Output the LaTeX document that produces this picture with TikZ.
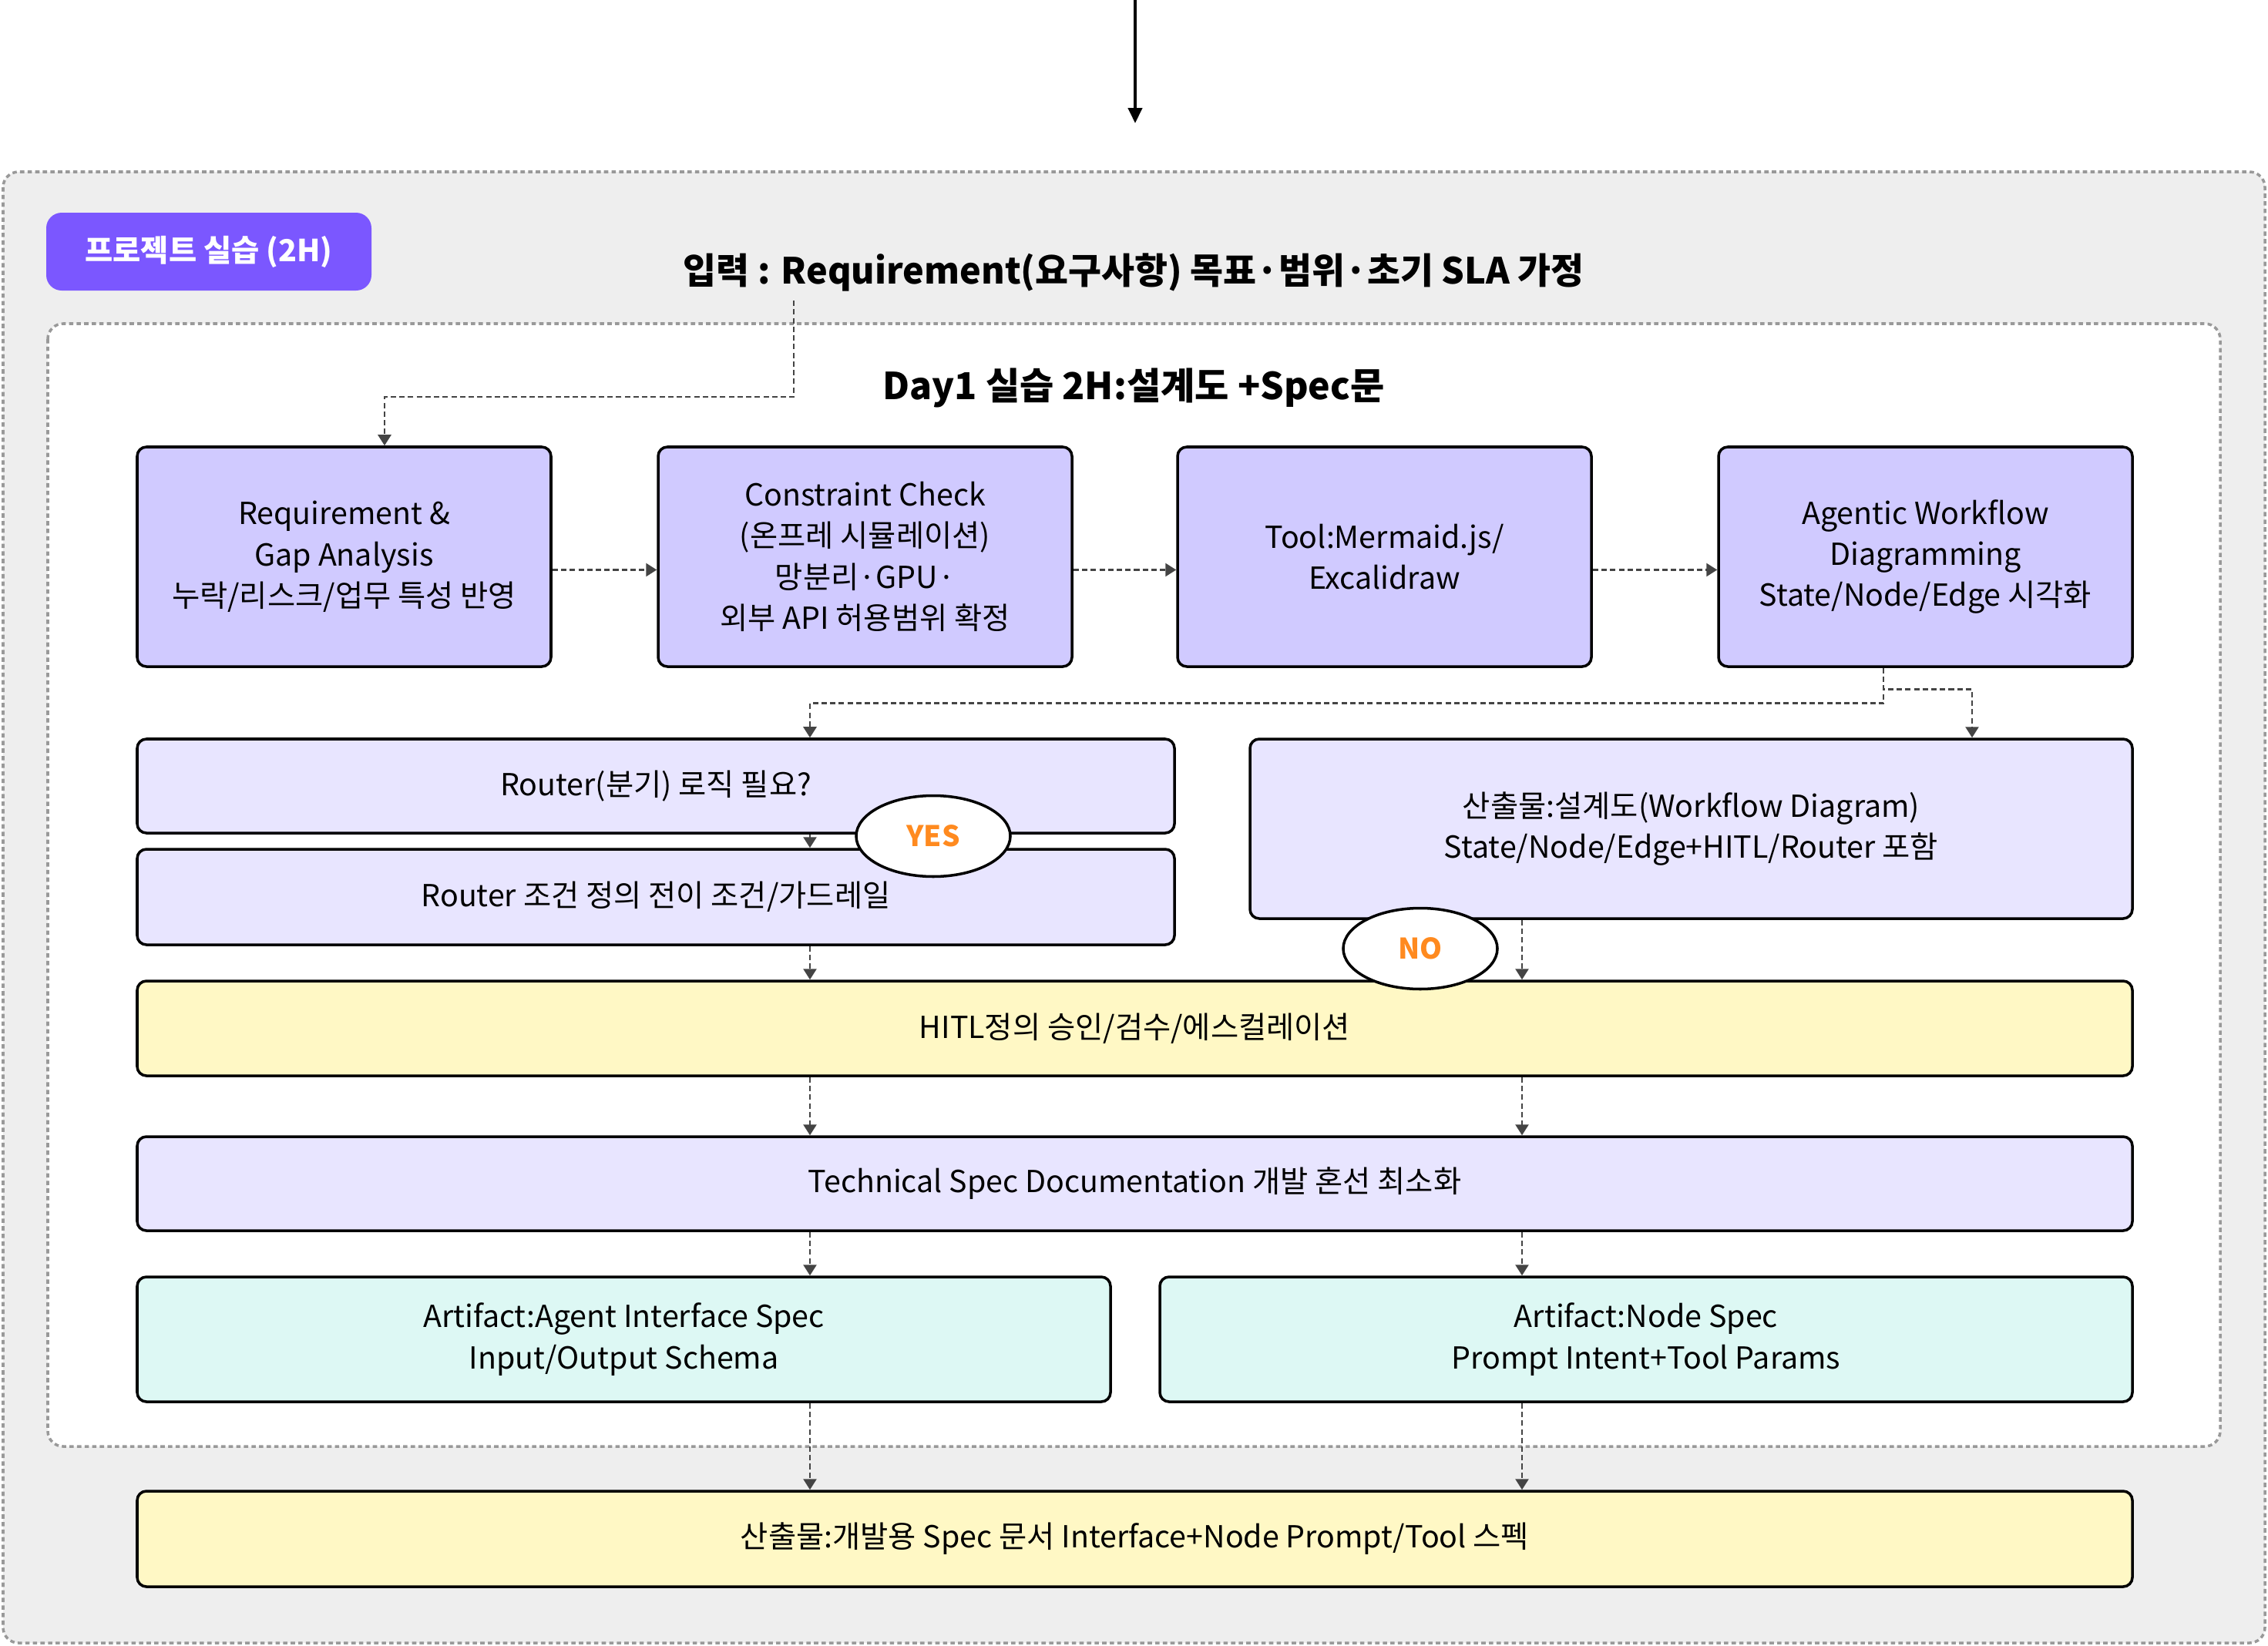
\documentclass[tikz,border=0pt]{standalone}
\usepackage{fontspec}
\setmainfont{Noto Sans CJK KR}
\usepackage{tikz}
\usetikzlibrary{arrows.meta,shapes.geometric,positioning}
\definecolor{grayBack}{HTML}{EEEEEE}
\definecolor{grayLine}{HTML}{999999}
\definecolor{arrowGray}{HTML}{444444}
\definecolor{purpleBadge}{HTML}{7B57FF}
\definecolor{lilacBox}{HTML}{D0CAFF}
\definecolor{lilacLight}{HTML}{E8E5FF}
\definecolor{yellowBox}{HTML}{FFF8C5}
\definecolor{mintBox}{HTML}{DDF8F4}
\definecolor{orangeTag}{HTML}{FF8A1F}
\tikzset{
  box/.style={draw=black,line width=1pt,rounded corners=0.12cm,align=center,inner sep=0pt,
    font=\fontsize{11.2}{15.2}\selectfont},
  flow/.style={draw=arrowGray,line width=0.75pt,dash pattern=on 2pt off 1.2pt,
    -{Triangle[length=0.14cm,width=0.17cm]}},
  tag/.style={ellipse,draw=black,line width=1pt,fill=white,minimum width=2cm,minimum height=1.05cm,
    text=orangeTag,font=\bfseries\fontsize{10.5}{12}\selectfont},
}

\begin{document}
\begin{tikzpicture}
    \useasboundingbox (0,0) rectangle (29.43,-21.36);
    % frames
    \filldraw[fill=grayBack,draw=grayLine,line width=1pt,dash pattern=on 1.6pt off 1.2pt,rounded corners=0.2cm]
      (0.04,-2.23) rectangle (29.39,-21.32);
    \filldraw[fill=white,draw=grayLine,line width=1pt,dash pattern=on 1.6pt off 1.2pt,rounded corners=0.2cm]
      (0.62,-4.20) rectangle (28.81,-18.77);
    \coordinate (entry) at (14.73,0);
    \coordinate (entryEnd) at (14.73,-1.60);
    \draw[line width=1.2pt,-{Triangle[length=0.2cm,width=0.18cm]}] (entry) -- (entryEnd);
    \coordinate (colL) at (10.51,0);
    \coordinate (colR) at (19.75,0);

    \node[fill=purpleBadge,rounded corners=0.2cm,minimum width=4.22cm,minimum height=1.01cm,text=white,
      font=\bfseries\fontsize{11.2}{13}\selectfont] (badge) at (2.71,-3.265) {프로젝트 실습 (2H)};
    \node[font=\bfseries\fontsize{13.3}{15}\selectfont] (title) at (14.71,-3.53)
      {입력 : Requirement(요구사항) 목표·범위·초기 SLA 가정};
    \node[font=\bfseries\fontsize{13.7}{15}\selectfont] (day) at (14.71,-5.03) {Day1 실습 2H:설계도 +Spec문};

    % row 1
    \node[box,fill=lilacBox,minimum width=5.37cm,minimum height=2.85cm] (a) at (4.465,-7.225)
      {Requirement \&\\Gap Analysis\\누락/리스크/업무 특성 반영};
    \node[box,fill=lilacBox,minimum width=5.37cm,minimum height=2.85cm] (b) at (11.225,-7.225)
      {Constraint Check\\(온프레 시뮬레이션)\\망분리·GPU·\\외부 API 허용범위 확정};
    \node[box,fill=lilacBox,minimum width=5.37cm,minimum height=2.85cm] (c) at (17.965,-7.225)
      {Tool:Mermaid.js/\\Excalidraw};
    \node[box,fill=lilacBox,minimum width=5.37cm,minimum height=2.85cm] (d) at (24.985,-7.225)
      {Agentic Workflow\\Diagramming\\State/Node/Edge 시각화};

    % router and output
    \node[box,fill=lilacLight,minimum width=13.46cm,minimum height=1.22cm] (router) at (8.51,-10.20)
      {Router(분기) 로직 필요?};
    \node[box,fill=lilacLight,minimum width=13.46cm,minimum height=1.24cm] (guard) at (8.51,-11.64)
      {Router 조건 정의 전이 조건/가드레일};
    \node[box,fill=lilacLight,minimum width=11.45cm,minimum height=2.33cm] (design) at (21.945,-10.755)
      {산출물:설계도(Workflow Diagram)\\State/Node/Edge+HITL/Router 포함};

    \node[box,fill=yellowBox,minimum width=25.89cm,minimum height=1.23cm] (hitl) at (14.725,-13.345)
      {HITL정의 승인/검수/에스컬레이션};
    \node[box,fill=lilacLight,minimum width=25.89cm,minimum height=1.22cm] (tech) at (14.725,-15.36)
      {Technical Spec Documentation 개발 혼선 최소화};
    \node[box,fill=mintBox,minimum width=12.63cm,minimum height=1.62cm] (artA) at (8.095,-17.38)
      {Artifact:Agent Interface Spec\\Input/Output Schema};
    \node[box,fill=mintBox,minimum width=12.62cm,minimum height=1.62cm] (artB) at (21.36,-17.38)
      {Artifact:Node Spec\\Prompt Intent+Tool Params};
    \node[box,fill=yellowBox,minimum width=25.89cm,minimum height=1.24cm] (final) at (14.725,-19.97)
      {산출물:개발용 Spec 문서 Interface+Node Prompt/Tool 스펙};

    % connectors
    \draw[flow] ([xshift=-4.41cm]title.south) -- ++(0,-1.25) -| ([xshift=0.525cm]a.north);
    \draw[flow] ([yshift=-0.17cm]a.east) -- ([yshift=-0.17cm]b.west);
    \draw[flow] ([yshift=-0.17cm]b.east) -- ([yshift=-0.17cm]c.west);
    \draw[flow] ([yshift=-0.17cm]c.east) -- ([yshift=-0.17cm]d.west);
    \draw[flow] ([xshift=-0.545cm]d.south) -- ++(0,-0.46) -| (router.north -| colL);
    \draw[flow] ([xshift=-0.545cm]d.south) -- ++(0,-0.28) -| ([xshift=3.645cm]design.north);
    \draw[flow] (router.south -| colL) -- (guard.north -| colL);
    \draw[flow] (guard.south -| colL) -- (hitl.north -| colL);
    \draw[flow] (design.south -| colR) -- (hitl.north -| colR);
    \draw[flow] (hitl.south -| colL) -- (tech.north -| colL);
    \draw[flow] (hitl.south -| colR) -- (tech.north -| colR);
    \draw[flow] (tech.south -| colL) -- (artA.north -| colL);
    \draw[flow] (tech.south -| colR) -- (artB.north -| colR);
    \draw[flow] (artA.south -| colL) -- (final.north -| colL);
    \draw[flow] (artB.south -| colR) -- (final.north -| colR);

    \node[tag] (yes) at (12.11,-10.85) {YES};
    \node[tag] (no) at (18.43,-12.31) {NO};
  \end{tikzpicture}
\end{document}
